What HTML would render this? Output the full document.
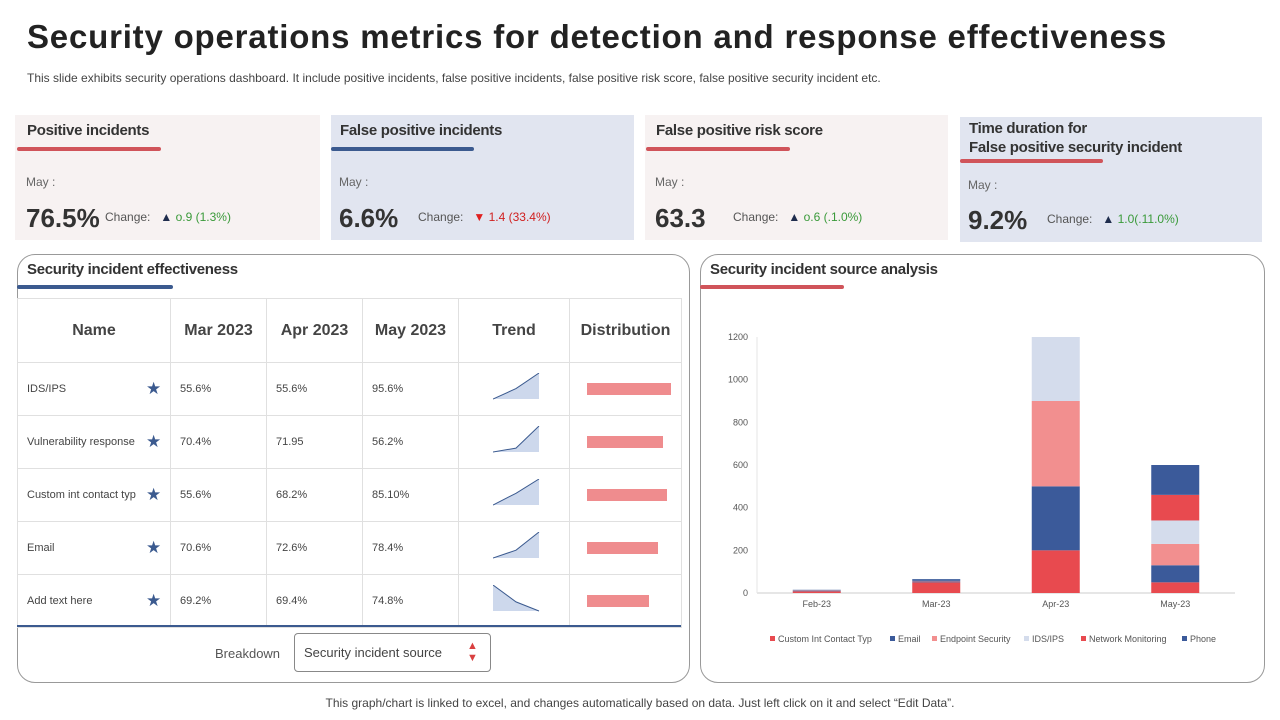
<!DOCTYPE html>
<html><head><meta charset="utf-8">
<style>
*{margin:0;padding:0;box-sizing:border-box}
body{width:1280px;height:720px;background:#fff;font-family:"Liberation Sans",sans-serif;position:relative;overflow:hidden;color:#333}
.abs{position:absolute}
.card{position:absolute;height:125px}
.ct{position:absolute;left:12px;top:6px;font-size:15px;font-weight:bold;color:#333;letter-spacing:-0.3px;line-height:19px}
.ul{position:absolute;height:4px;border-radius:2px}
.may{position:absolute;font-size:12px;color:#666}
.big{position:absolute;font-size:26px;font-weight:bold;color:#333}
.chg{position:absolute;font-size:12px;color:#555}
.panel{position:absolute;border:1px solid #999;border-radius:18px}
table{border-collapse:collapse;position:absolute;left:17px;top:298px}
td,th{border:1px solid #e0e0e0;font-size:11px;color:#444;text-align:left;padding-left:9px}
th{font-size:16px;font-weight:bold;color:#444;height:64px;text-align:center;padding:0}
td{height:53px}
</style></head><body>
<div class="abs" style="left:27px;top:18px;font-size:33px;letter-spacing:0.8px;font-weight:bold;color:#222">Security operations metrics for detection and response effectiveness</div>
<div class="abs" style="left:27px;top:71px;font-size:12px;color:#444">This slide exhibits security operations dashboard. It include positive incidents, false positive incidents, false positive risk score, false positive security incident etc.</div>

<div class="card" style="left:15px;top:115px;width:305px;background:#f7f2f2">
 <div class="ct">Positive incidents</div><div class="ul" style="left:2px;top:32px;width:144px;background:#d0545a"></div>
 <div class="may" style="left:11px;top:60px">May :</div>
 <div class="big" style="left:11px;top:88px">76.5%</div>
 <div class="chg" style="left:90px;top:95px">Change: &nbsp; <span style="color:#1f2d4d">▲</span> <span style="color:#3a9a3a">o.9 (1.3%)</span></div>
</div>
<div class="card" style="left:331px;top:115px;width:303px;background:#e1e5f0">
 <div class="ct" style="left:9px">False positive incidents</div><div class="ul" style="left:0;top:32px;width:143px;background:#3b5a8f"></div>
 <div class="may" style="left:8px;top:60px">May :</div>
 <div class="big" style="left:8px;top:88px">6.6%</div>
 <div class="chg" style="left:87px;top:95px">Change: &nbsp; <span style="color:#e02020">▼</span> <span style="color:#d02020">1.4 (33.4%)</span></div>
</div>
<div class="card" style="left:645px;top:115px;width:303px;background:#f7f2f2">
 <div class="ct" style="left:11px">False positive risk score</div><div class="ul" style="left:1px;top:32px;width:144px;background:#d0545a"></div>
 <div class="may" style="left:10px;top:60px">May :</div>
 <div class="big" style="left:10px;top:88px">63.3</div>
 <div class="chg" style="left:88px;top:95px">Change: &nbsp; <span style="color:#1f2d4d">▲</span> <span style="color:#3a9a3a">o.6 (.1.0%)</span></div>
</div>
<div class="card" style="left:960px;top:117px;width:302px;background:#e1e5f0">
 <div class="ct" style="left:9px;top:2px">Time duration for<br>False positive security incident</div><div class="ul" style="left:0;top:42px;width:143px;background:#d0545a"></div>
 <div class="may" style="left:8px;top:61px">May :</div>
 <div class="big" style="left:8px;top:88px">9.2%</div>
 <div class="chg" style="left:87px;top:95px">Change: &nbsp; <span style="color:#1f2d4d">▲</span> <span style="color:#3a9a3a">1.0(.11.0%)</span></div>
</div>

<div class="panel" style="left:17px;top:254px;width:673px;height:429px"></div>
<div class="abs" style="left:27px;top:261px;font-size:15px;font-weight:bold;letter-spacing:-0.3px">Security incident effectiveness</div>
<div class="ul" style="left:17px;top:285px;width:156px;background:#3b5a8f"></div>
<table>
<tr><th style="width:153px">Name</th><th style="width:96px">Mar 2023</th><th style="width:96px">Apr 2023</th><th style="width:96px">May 2023</th><th style="width:111px">Trend</th><th style="width:112px">Distribution</th></tr>
<tbody id="tb"></tbody>
</table>
<div class="abs" style="left:17px;top:625px;width:664px;height:2px;background:#3b5a8f"></div>
<div class="abs" style="left:215px;top:646px;font-size:13px;color:#555">Breakdown</div>
<div class="abs" style="left:294px;top:633px;width:197px;height:39px;border:1px solid #888;border-radius:4px;font-size:13px;color:#444;padding:11px 0 0 9px">Security incident source<span style="position:absolute;left:172px;top:6px;color:#d94040;font-size:11px;line-height:12px">▲<br>▼</span></div>

<div class="panel" style="left:700px;top:254px;width:565px;height:429px"></div>
<div class="abs" style="left:710px;top:261px;font-size:15px;font-weight:bold;letter-spacing:-0.3px">Security incident source analysis</div>
<div class="ul" style="left:700px;top:285px;width:144px;background:#d0545a"></div>
<svg id="chart" class="abs" style="left:0;top:0" width="1280" height="720"></svg>

<div class="abs" style="left:0;width:1280px;top:696px;text-align:center;font-size:12px;color:#444">This graph/chart is linked to excel,  and changes automatically based on data. Just left click on it and select “Edit Data”.</div>

<script>
const rowNames=["IDS/IPS","Vulnerability response","Custom int contact typ","Email","Add text here"];
const marVals=["55.6%","70.4%","55.6%","70.6%","69.2%"];
const aprVals=["55.6%","71.95","68.2%","72.6%","69.4%"];
const mayVals=["95.6%","56.2%","85.10%","78.4%","74.8%"];
const trendPts=[[0,0.4,1],[0,0.15,1],[0,0.45,1],[0,0.3,1],[1,0.35,0]];
const distVals=[84,76,80,71,62];
const tb=document.getElementById('tb');
rowNames.forEach((n,i)=>{
 const tr=document.createElement('tr');
 
 
 const pts=trendPts[i];const w=46,h=26;
 let line=pts.map((v,j)=>`${j*w/(pts.length-1)},${h-v*h}`).join(' ');
 let area=`0,${h} `+line+` ${w},${h}`;
 tr.innerHTML=`<td style="position:relative">${n}<span style="position:absolute;left:128px;top:16px;color:#3b5a8f;font-size:17px">★</span></td><td>${marVals[i]}</td><td>${aprVals[i]}</td><td>${mayVals[i]}</td><td style="padding-left:34px"><svg width="50" height="30"><polygon points="${area}" fill="#cdd8ec"/><polyline points="${line}" fill="none" stroke="#3b5a8f" stroke-width="1"/></svg></td><td style="padding-left:17px"><div style="width:${distVals[i]}px;height:12px;background:#ef8c8e"></div></td>`;
 tb.appendChild(tr);
});

const cats=["Feb-23","Mar-23","Apr-23","May-23"];
const seriesNames=["Custom Int Contact Typ","Email","Endpoint Security","IDS/IPS","Network Monitoring","Phone"];
const seriesColors=["#e84a4f","#3b5a9a","#f28f8f","#d4dcec","#e84a4f","#3b5a9a"];
const sCustom=[8,50,200,50];
const sEmail=[3,4,300,80];
const sEndpoint=[2,3,400,100];
const sIDS=[0,0,300,110];
const sNetwork=[0,0,0,120];
const sPhone=[2,8,0,140];
const yTicks=[0,200,400,600,800,1000,1200];
const series=[sCustom,sEmail,sEndpoint,sIDS,sNetwork,sPhone];
const svg=document.getElementById('chart');
const NS='http://www.w3.org/2000/svg';
const x0=757,x1=1235,yb=593,yt=337,ymax=1200;
const ys=v=>yb-(v/ymax)*(yb-yt);
const band=(x1-x0)/cats.length;
const xc=i=>x0+band*(i+0.5);
function mk(t,a){const e=document.createElementNS(NS,t);for(const k in a)e.setAttribute(k,a[k]);svg.appendChild(e);return e;}
yTicks.forEach(t=>{const e=mk('text',{x:748,y:ys(t)+3,'text-anchor':'end','font-size':9,fill:'#555','font-family':'Liberation Sans'});e.textContent=t;

});
const ax=mk('line',{x1:x0,x2:x1,y1:yb,y2:yb,stroke:'#ccc'});


const ay=mk('line',{x1:x0,x2:x0,y1:yt,y2:yb,stroke:'#e6e6e6'});


cats.forEach((c,i)=>{
 let acc=0;
 series.forEach((s,k)=>{const v=s[i];if(v<=0)return;
  const r=mk('rect',{x:xc(i)-24,width:48,y:ys(acc+v),height:ys(acc)-ys(acc+v),fill:seriesColors[k]});
  
  
  acc+=v;});
 const t=mk('text',{x:xc(i),y:607,'text-anchor':'middle','font-size':9,fill:'#555','font-family':'Liberation Sans'});t.textContent=c;
 
 
});
const legX=[770,890,932,1024,1081,1182];
seriesNames.forEach((n,k)=>{
 const g=mk('g',{});
 
 
 const r=document.createElementNS(NS,'rect');r.setAttribute('x',legX[k]);r.setAttribute('y',636);r.setAttribute('width',5);r.setAttribute('height',5);r.setAttribute('fill',seriesColors[k]);g.appendChild(r);
 const t=document.createElementNS(NS,'text');t.setAttribute('x',legX[k]+8);t.setAttribute('y',642);t.setAttribute('font-size',9);t.setAttribute('fill','#555');t.setAttribute('font-family','Liberation Sans');t.textContent=n;g.appendChild(t);
});
</script>
</body></html>
